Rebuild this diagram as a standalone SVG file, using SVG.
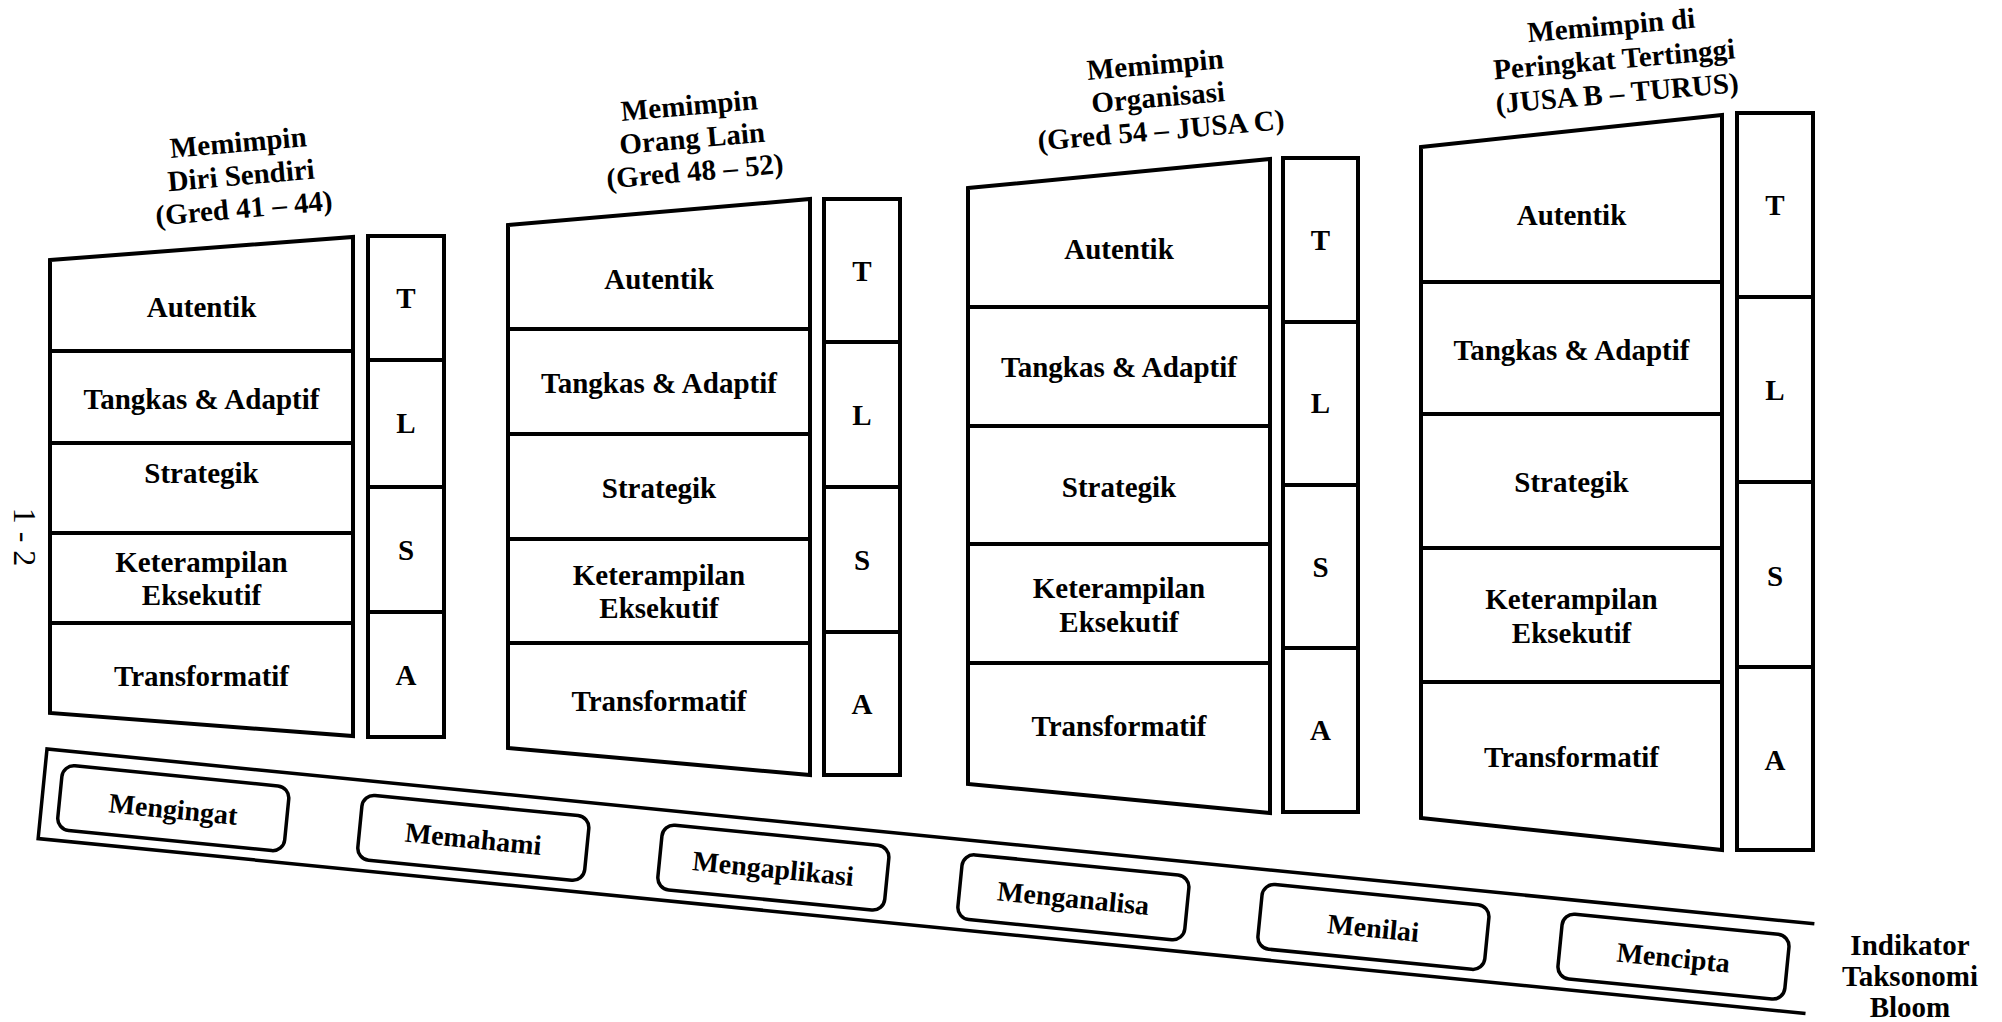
<svg xmlns="http://www.w3.org/2000/svg" width="2002" height="1022" viewBox="0 0 2002 1022">
<style>
  .shape { fill: #ffffff; stroke: #000000; stroke-width: 4; stroke-linejoin: miter; }
  .line { fill: none; stroke: #000000; stroke-width: 4; }
  .band { fill: none; stroke: #000000; stroke-width: 3.5; }
  .box { fill: #ffffff; stroke: #000000; stroke-width: 3.5; }
  .t { font-family: "Liberation Serif", "Times New Roman", serif; font-weight: bold; font-size: 29px; fill: #000000; text-anchor: middle; }
  .tb { font-family: "Liberation Serif", "Times New Roman", serif; font-weight: bold; font-size: 28px; fill: #000000; text-anchor: middle; }
  .side { font-family: "Liberation Serif", "Times New Roman", serif; font-weight: normal; font-size: 32px; fill: #000000; text-anchor: middle; }
</style>
<rect x="0" y="0" width="2002" height="1022" fill="#ffffff"/>

<!-- Block 1 -->
<g id="title1" transform="translate(239,152) rotate(-5)">
  <text class="t" x="0" y="0">Memimpin</text>
  <text class="t" x="0" y="33">Diri Sendiri</text>
  <text class="t" x="0" y="66">(Gred 41 – 44)</text>
</g>
<g id="block1">
  <polygon class="shape" points="50,260 353,237 353,736 50,713"/>
  <line class="line" x1="50" y1="351" x2="353" y2="351"/>
  <line class="line" x1="50" y1="443" x2="353" y2="443"/>
  <line class="line" x1="50" y1="533" x2="353" y2="533"/>
  <line class="line" x1="50" y1="623" x2="353" y2="623"/>
  <text class="t" x="201.5" y="317">Autentik</text>
  <text class="t" x="201.5" y="409">Tangkas &amp; Adaptif</text>
  <text class="t" x="201.5" y="483">Strategik</text>
  <text class="t" x="201.5" y="572">Keterampilan</text>
  <text class="t" x="201.5" y="605">Eksekutif</text>
  <text class="t" x="201.5" y="686">Transformatif</text>
</g>
<g id="column1">
  <rect class="shape" x="368" y="236" width="76" height="501"/>
  <line class="line" x1="368" y1="360" x2="444" y2="360"/>
  <line class="line" x1="368" y1="487" x2="444" y2="487"/>
  <line class="line" x1="368" y1="612" x2="444" y2="612"/>
  <text class="t" x="406" y="308">T</text>
  <text class="t" x="406" y="433">L</text>
  <text class="t" x="406" y="560">S</text>
  <text class="t" x="406" y="685">A</text>
</g>

<!-- Block 2 -->
<g id="title2" transform="translate(690,115) rotate(-5)">
  <text class="t" x="0" y="0">Memimpin</text>
  <text class="t" x="0" y="33">Orang Lain</text>
  <text class="t" x="0" y="66">(Gred 48 – 52)</text>
</g>
<g id="block2">
  <polygon class="shape" points="508,225 810,199 810,775 508,748"/>
  <line class="line" x1="508" y1="329" x2="810" y2="329"/>
  <line class="line" x1="508" y1="434" x2="810" y2="434"/>
  <line class="line" x1="508" y1="539" x2="810" y2="539"/>
  <line class="line" x1="508" y1="643" x2="810" y2="643"/>
  <text class="t" x="659" y="289">Autentik</text>
  <text class="t" x="659" y="393">Tangkas &amp; Adaptif</text>
  <text class="t" x="659" y="498">Strategik</text>
  <text class="t" x="659" y="585">Keterampilan</text>
  <text class="t" x="659" y="618">Eksekutif</text>
  <text class="t" x="659" y="711">Transformatif</text>
</g>
<g id="column2">
  <rect class="shape" x="824" y="199" width="76" height="576"/>
  <line class="line" x1="824" y1="342" x2="900" y2="342"/>
  <line class="line" x1="824" y1="487" x2="900" y2="487"/>
  <line class="line" x1="824" y1="632" x2="900" y2="632"/>
  <text class="t" x="862" y="281">T</text>
  <text class="t" x="862" y="425">L</text>
  <text class="t" x="862" y="570">S</text>
  <text class="t" x="862" y="714">A</text>
</g>

<!-- Block 3 -->
<g id="title3" transform="translate(1156,74) rotate(-5)">
  <text class="t" x="0" y="0">Memimpin</text>
  <text class="t" x="0" y="33">Organisasi</text>
  <text class="t" x="0" y="66">(Gred 54 – JUSA C)</text>
</g>
<g id="block3">
  <polygon class="shape" points="968,188 1270,159 1270,813 968,784"/>
  <line class="line" x1="968" y1="307" x2="1270" y2="307"/>
  <line class="line" x1="968" y1="426" x2="1270" y2="426"/>
  <line class="line" x1="968" y1="544" x2="1270" y2="544"/>
  <line class="line" x1="968" y1="663" x2="1270" y2="663"/>
  <text class="t" x="1119" y="259">Autentik</text>
  <text class="t" x="1119" y="377">Tangkas &amp; Adaptif</text>
  <text class="t" x="1119" y="497">Strategik</text>
  <text class="t" x="1119" y="598">Keterampilan</text>
  <text class="t" x="1119" y="632">Eksekutif</text>
  <text class="t" x="1119" y="736">Transformatif</text>
</g>
<g id="column3">
  <rect class="shape" x="1283" y="158" width="75" height="654"/>
  <line class="line" x1="1283" y1="322" x2="1358" y2="322"/>
  <line class="line" x1="1283" y1="485" x2="1358" y2="485"/>
  <line class="line" x1="1283" y1="648" x2="1358" y2="648"/>
  <text class="t" x="1320.5" y="250">T</text>
  <text class="t" x="1320.5" y="413">L</text>
  <text class="t" x="1320.5" y="577">S</text>
  <text class="t" x="1320.5" y="740">A</text>
</g>

<!-- Block 4 -->
<g id="title4" transform="translate(1612,35) rotate(-5)">
  <text class="t" x="0" y="0">Memimpin di</text>
  <text class="t" x="0" y="34">Peringkat Tertinggi</text>
  <text class="t" x="0" y="68">(JUSA B – TURUS)</text>
</g>
<g id="block4">
  <polygon class="shape" points="1421,147 1722,115 1722,850 1421,818"/>
  <line class="line" x1="1421" y1="282" x2="1722" y2="282"/>
  <line class="line" x1="1421" y1="414" x2="1722" y2="414"/>
  <line class="line" x1="1421" y1="548" x2="1722" y2="548"/>
  <line class="line" x1="1421" y1="682" x2="1722" y2="682"/>
  <text class="t" x="1571.5" y="225">Autentik</text>
  <text class="t" x="1571.5" y="360">Tangkas &amp; Adaptif</text>
  <text class="t" x="1571.5" y="492">Strategik</text>
  <text class="t" x="1571.5" y="609">Keterampilan</text>
  <text class="t" x="1571.5" y="643">Eksekutif</text>
  <text class="t" x="1571.5" y="767">Transformatif</text>
</g>
<g id="column4">
  <rect class="shape" x="1737" y="113" width="76" height="737"/>
  <line class="line" x1="1737" y1="297" x2="1813" y2="297"/>
  <line class="line" x1="1737" y1="482" x2="1813" y2="482"/>
  <line class="line" x1="1737" y1="667" x2="1813" y2="667"/>
  <text class="t" x="1775" y="215">T</text>
  <text class="t" x="1775" y="400">L</text>
  <text class="t" x="1775" y="586">S</text>
  <text class="t" x="1775" y="770">A</text>
</g>

<!-- side label -->
<g id="side-label" transform="translate(14,537) rotate(90)">
  <text class="side" x="0" y="0">1 - 2</text>
</g>

<!-- Bloom taxonomy band -->
<g id="bloom-band" transform="translate(47,749) rotate(5.65)">
  <path class="band" d="M1776,0 H0 V90 H1776"/>
  <g id="bloom1"><rect class="box" x="17.5" y="14" width="228" height="65" rx="12"/><text class="tb" x="131.5" y="57">Mengingat</text></g>
  <g id="bloom2"><rect class="box" x="319" y="14" width="228" height="65" rx="12"/><text class="tb" x="433" y="57">Memahami</text></g>
  <g id="bloom3"><rect class="box" x="620.5" y="14" width="228" height="65" rx="12"/><text class="tb" x="734.5" y="57">Mengaplikasi</text></g>
  <g id="bloom4"><rect class="box" x="922" y="14" width="228" height="65" rx="12"/><text class="tb" x="1036" y="57">Menganalisa</text></g>
  <g id="bloom5"><rect class="box" x="1223.5" y="14" width="228" height="65" rx="12"/><text class="tb" x="1337.5" y="57">Menilai</text></g>
  <g id="bloom6"><rect class="box" x="1525" y="14" width="228" height="65" rx="12"/><text class="tb" x="1639" y="57">Mencipta</text></g>
</g>
<g id="bloom-label">
  <text class="t" x="1910" y="955">Indikator</text>
  <text class="t" x="1910" y="986">Taksonomi</text>
  <text class="t" x="1910" y="1017">Bloom</text>
</g>

<g id="connectors"></g>
</svg>
